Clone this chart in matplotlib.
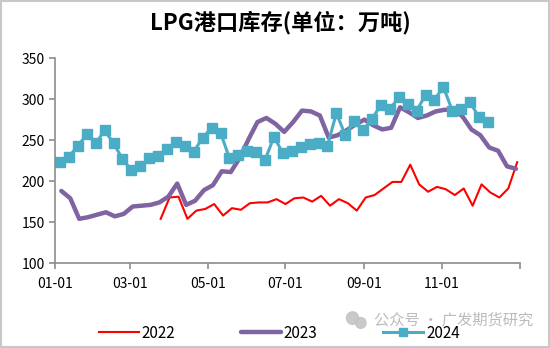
import matplotlib
matplotlib.use("Agg")
import matplotlib.pyplot as plt
from matplotlib.patches import Rectangle, Ellipse
import pandas as pd

plt.rcParams['font.family'] = ['Noto Sans CJK SC', 'DejaVu Sans']

# weekly LPG port inventory (10k tons)
inv_2022 = [154, 180, 181, 154, 164, 166, 172, 158, 167, 165,
            173, 174, 174, 178, 172, 179, 180, 175, 182, 170,
            178, 173, 164, 180, 183, 191, 199, 199, 220, 196,
            187, 193, 190, 183, 191, 170, 196, 186, 180, 191,
            223]
inv_2023 = [188, 179, 154, 156, 159, 162, 157, 160, 169, 170,
            171, 174, 181, 197, 171, 176, 189, 195, 212, 211,
            228, 251, 272, 277, 270, 260, 272, 286, 285, 280,
            253, 256, 262, 269, 275, 268, 263, 265, 290, 284,
            277, 280, 285, 287, 287, 279, 263, 256, 241, 237,
            218, 215]
inv_2024 = [223, 230, 243, 257, 246, 262, 246, 227, 213, 218,
            228, 231, 239, 248, 243, 236, 253, 265, 259, 228,
            232, 237, 236, 226, 254, 234, 237, 241, 245, 247,
            243, 283, 256, 273, 262, 276, 293, 288, 302, 294,
            286, 305, 299, 315, 286, 288, 296, 278, 272]
first_week = {'2022': '2022-03-25', '2023': '2023-01-06', '2024': '2024-01-05'}

base = pd.Timestamp('2023-01-01')


def to_base_year(start, n):
    # put every year's weekly dates on one common Jan-Dec axis
    d = pd.date_range(start, periods=n, freq='7D')
    return base + (d - pd.Timestamp(d[0].year, 1, 1))


fig = plt.figure(figsize=(5.5, 3.48), dpi=100)
ax = fig.add_axes([0.1, 0.244, 0.845, 0.589])

ax.plot(to_base_year(first_week['2022'], len(inv_2022)), inv_2022,
        color='#ff0000', lw=1.5, label='2022')
ax.plot(to_base_year(first_week['2023'], len(inv_2023)), inv_2023,
        color='#8064a2', lw=3.2, solid_capstyle='round', label='2023')
ax.plot(to_base_year(first_week['2024'], len(inv_2024)), inv_2024,
        color='#4bacc6', lw=2.2, marker='s', markersize=7.5,
        markeredgecolor='#4bacc6', label='2024')

ax.set_xlim(base, pd.Timestamp('2024-01-01'))
ax.set_ylim(100, 350)
ax.set_yticks(range(100, 351, 50))

ticks = [pd.Timestamp(f'2023-{m:02d}-01') for m in (1, 3, 5, 7, 9, 11)]
ticks.append(pd.Timestamp('2024-01-01'))
ax.set_xticks(ticks)
ax.set_xticklabels([t.strftime('%m-%d') for t in ticks[:-1]] + [''])

for s in ('top', 'right'):
    ax.spines[s].set_visible(False)
for s in ('left', 'bottom'):
    ax.spines[s].set_color('#8c8c8c')
    ax.spines[s].set_linewidth(1.2)
ax.tick_params(axis='both', colors='#8c8c8c', labelcolor='black',
               labelsize=10, length=4, width=1.2)
ax.tick_params(axis='x', pad=6)

fig.text(0.51, 0.935, 'LPG港口库存(单位：万吨)', ha='center', va='center',
         fontsize=16, fontweight='bold')

fig.legend(loc='center', bbox_to_anchor=(0.508, 0.043), ncol=3, frameon=False,
           fontsize=11, handlelength=2.6, handletextpad=0.2, columnspacing=4.3,
           markerscale=0.8)

# watermark (wechat-ish bubbles + text)
fig.patches.append(Ellipse((0.641, 0.086), 0.022, 0.036, transform=fig.transFigure,
                           color='#c4c4c4', alpha=0.9))
fig.patches.append(Ellipse((0.656, 0.072), 0.019, 0.031, transform=fig.transFigure,
                           color='#c4c4c4', alpha=0.9))
fig.text(0.68, 0.082, '公众号 · 广发期货研究', ha='left', va='center',
         fontsize=11, color='#b4b4b4', alpha=0.9)

fig.patches.append(Rectangle((0.002, 0.003), 0.996, 0.994, transform=fig.transFigure,
                             fill=False, edgecolor='#c8c8c8', lw=1.5))

fig.savefig('out.png', dpi=100)
